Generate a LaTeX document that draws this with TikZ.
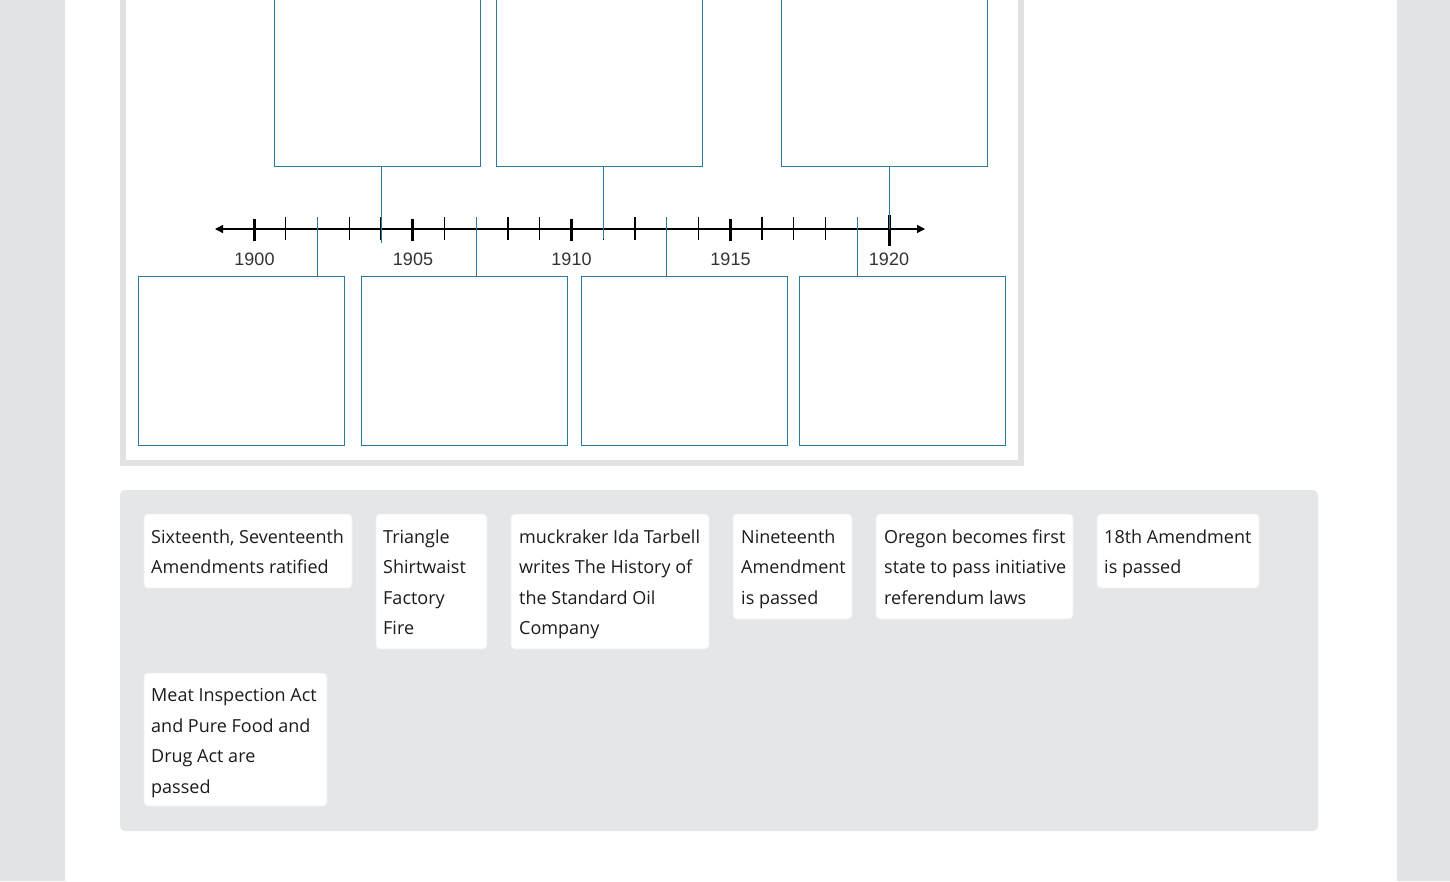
\documentclass[tikz,border=0pt]{standalone}
\usepackage{fontspec}
\setmainfont{Open Sans}
\newfontfamily\axisfont{Liberation Sans}
\usetikzlibrary{arrows.meta}
\definecolor{pagebg}{HTML}{E1E4E5}
\definecolor{panelborder}{HTML}{E2E2E2}
\definecolor{poolbg}{HTML}{E5E6E7}
\definecolor{boxblue}{HTML}{2F7899}
\definecolor{cardtext}{HTML}{1C1C1C}
\definecolor{yeartext}{HTML}{333333}
\begin{document}
\begin{tikzpicture}[x=1pt,y=-1pt,
  slot/.style={draw=boxblue,line width=1pt,fill=white,minimum width=206pt,inner sep=0pt,outer sep=0pt},
  conn/.style={draw=boxblue,line width=1pt},
  minortick/.style={line width=1.1pt,black},
  majortick/.style={line width=3pt,black},
  yearlbl/.style={font=\axisfont\fontsize{18pt}{20pt}\selectfont,text=yeartext,anchor=base,inner sep=0pt},
  card/.style={fill=white,rounded corners=4pt,draw=black!6,line width=0.6pt},
  cardtxt/.style={font=\fontsize{18pt}{22pt}\selectfont,text=cardtext,anchor=base west,inner sep=0pt}]
\useasboundingbox (0,0) rectangle (1450,881);
% page backgrounds
\fill[pagebg] (0,0) rectangle (1450,881);
\fill[white] (65,0) rectangle (1397,881);
% timeline panel
\fill[panelborder] (120,-10) rectangle (1024,466);
\fill[white] (126,-10) rectangle (1018,460);
% year coordinates
\foreach \k in {0,...,20} {
  \pgfmathsetmacro{\xx}{254+\k*31.75}
  \coordinate (y\k) at (\xx,229);
}
% slots
\node[slot,minimum height=176pt,anchor=south west] (t1) at (274,166) {};
\node[slot,minimum height=176pt,anchor=south west] (t2) at (496,166) {};
\node[slot,minimum height=176pt,anchor=south west] (t3) at (781,166) {};
\node[slot,minimum height=169pt,anchor=north west] (b1) at (138,276) {};
\node[slot,minimum height=169pt,anchor=north west] (b2) at (361,276) {};
\node[slot,minimum height=169pt,anchor=north west] (b3) at (581,276) {};
\node[slot,minimum height=169pt,anchor=north west] (b4) at (799,276) {};
% axis
\coordinate (axl) at (215,229);
\coordinate (axr) at (925,229);
\draw[line width=1.2pt,{Triangle[length=8pt,width=8pt]}-{Triangle[length=8pt,width=8pt]}] (axl) -- (axr);
% ticks
\foreach \k in {1,2,3,4,6,7,8,9,11,12,13,14,16,17,18,19} {
  \draw[minortick] ([yshift=12pt]y\k) -- ([yshift=-11pt]y\k);
}
\foreach \k in {0,5,10,15} {
  \draw[majortick] ([yshift=10pt]y\k) -- ([yshift=-12pt]y\k);
}
\draw[majortick] ([yshift=14pt]y20) -- ([yshift=-17pt]y20);
% connectors
\draw[conn] (t1.south -| y4) -- ([yshift=-14pt]y4);
\draw[conn] (t2.south -| y11) -- ([yshift=-10pt]y11);
\draw[conn] (t3.south -| y20) -- (y20);
\draw[conn] ([yshift=12pt]y2) -- (b1.north -| y2);
\draw[conn] ([yshift=12pt]y7) -- (b2.north -| y7);
\draw[conn] ([yshift=12pt]y13) -- (b3.north -| y13);
\draw[conn] ([yshift=12pt]y19) -- (b4.north -| y19);
% year labels
\node[yearlbl] (l1900) at (254.5,265) {1900};
\node[yearlbl] (l1905) at (413,265) {1905};
\node[yearlbl] (l1910) at (571.5,265) {1910};
\node[yearlbl] (l1915) at (730.5,265) {1915};
\node[yearlbl] (l1920) at (889,265) {1920};
% pool panel
\fill[poolbg,rounded corners=5pt] (120,490) rectangle (1318,831);
% cards
\draw[card] (144,514) rectangle (352,588);
\draw[card] (376,514) rectangle (487,649);
\draw[card] (511,514) rectangle (709,649);
\draw[card] (733,514) rectangle (852,619);
\draw[card] (876,514) rectangle (1073,619);
\draw[card] (1097,514) rectangle (1259,588);
\draw[card] (144,673) rectangle (327,806);
% card texts
\node[cardtxt] (c1a) at (151,543) {Sixteenth, Seventeenth};
\node[cardtxt] (c1b) at (151,573) {Amendments ratified};
\node[cardtxt] (c2a) at (383,543) {Triangle};
\node[cardtxt] (c2b) at (383,573) {Shirtwaist};
\node[cardtxt] (c2c) at (383,604) {Factory};
\node[cardtxt] (c2d) at (383,634) {Fire};
\node[cardtxt] (c3a) at (519,543) {muckraker Ida Tarbell};
\node[cardtxt] (c3b) at (519,573) {writes The History of};
\node[cardtxt] (c3c) at (519,604) {the Standard Oil};
\node[cardtxt] (c3d) at (519,634) {Company};
\node[cardtxt] (c4a) at (741,543) {Nineteenth};
\node[cardtxt] (c4b) at (741,573) {Amendment};
\node[cardtxt] (c4c) at (741,604) {is passed};
\node[cardtxt] (c5a) at (884,543) {Oregon becomes first};
\node[cardtxt] (c5b) at (884,573) {state to pass initiative};
\node[cardtxt] (c5c) at (884,604) {referendum laws};
\node[cardtxt] (c6a) at (1104,543) {18th Amendment};
\node[cardtxt] (c6b) at (1104,573) {is passed};
\node[cardtxt] (c7a) at (151,701) {Meat Inspection Act};
\node[cardtxt] (c7b) at (151,732) {and Pure Food and};
\node[cardtxt] (c7c) at (151,762) {Drug Act are};
\node[cardtxt] (c7d) at (151,793) {passed};
\end{tikzpicture}
\end{document}
